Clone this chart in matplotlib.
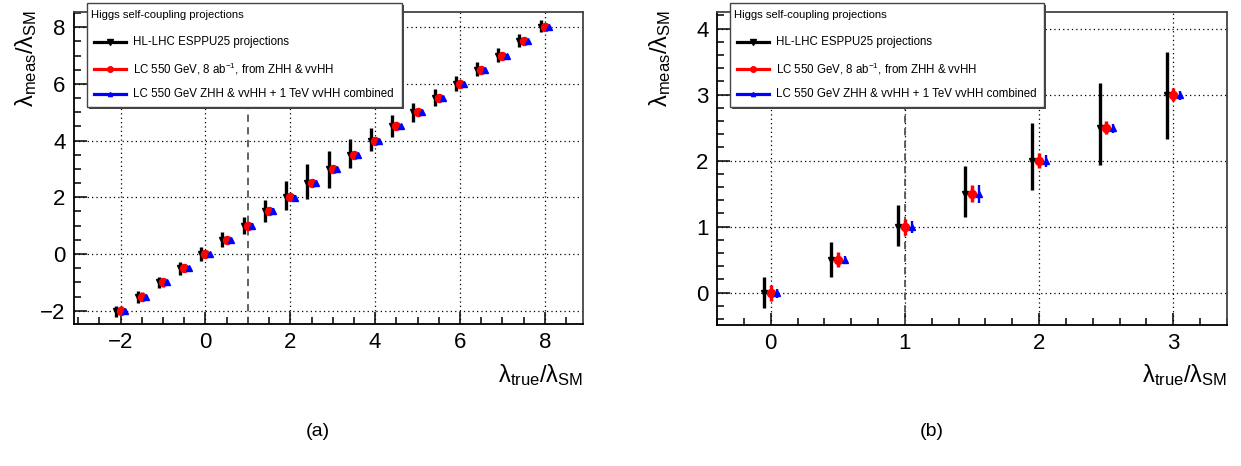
import numpy as np
import matplotlib
matplotlib.use("Agg")
import matplotlib.pyplot as plt
from matplotlib.patches import Rectangle
from matplotlib.lines import Line2D
from matplotlib.ticker import MultipleLocator

plt.rcParams['font.family'] = ['Liberation Sans', 'DejaVu Sans']
plt.rcParams['mathtext.fontset'] = 'custom'
plt.rcParams['mathtext.rm'] = 'Liberation Sans'
plt.rcParams['mathtext.it'] = 'Liberation Sans:italic'
plt.rcParams['mathtext.default'] = 'regular'

# ---------------- data ----------------
lam_true = [-2.0, -1.5, -1.0, -0.5, 0.0, 0.5, 1.0, 1.5, 2.0, 2.5, 3.0,
            3.5, 4.0, 4.5, 5.0, 5.5, 6.0, 6.5, 7.0, 7.5, 8.0]
# HL-LHC ESPPU25 projections (central value, asymmetric errors)
hl_val = [-2.0, -1.5, -1.0, -0.5, 0.0, 0.5, 1.0, 1.5, 2.0, 2.5, 3.0,
          3.5, 4.0, 4.5, 5.0, 5.5, 6.0, 6.5, 7.0, 7.5, 8.0]
hl_up = [0.17, 0.19, 0.20, 0.23, 0.24, 0.27, 0.32, 0.42, 0.57, 0.68, 0.64,
         0.55, 0.45, 0.40, 0.34, 0.31, 0.28, 0.28, 0.26, 0.25, 0.25]
hl_dn = [0.21, 0.22, 0.21, 0.24, 0.23, 0.26, 0.30, 0.36, 0.44, 0.56, 0.67,
         0.45, 0.37, 0.37, 0.33, 0.28, 0.24, 0.22, 0.22, 0.19, 0.18]
# LC 550 GeV, 8 ab-1, from ZHH & vvHH
lc_val = [-2.0, -1.5, -1.0, -0.5, 0.0, 0.5, 1.0, 1.5, 2.0, 2.5, 3.0,
          3.5, 4.0, 4.5, 5.0, 5.5, 6.0, 6.5, 7.0, 7.5, 8.0]
lc_err = [0.16, 0.15, 0.15, 0.14, 0.12, 0.11, 0.12, 0.13, 0.11, 0.10, 0.10,
          0.10, 0.10, 0.10, 0.11, 0.11, 0.11, 0.11, 0.12, 0.12, 0.12]
# LC 550 GeV ZHH & vvHH + 1 TeV vvHH combined
cb_val = [-2.0, -1.5, -1.0, -0.5, -0.01, 0.5, 0.99, 1.5, 1.99, 2.49, 2.99,
          3.5, 4.0, 4.5, 5.0, 5.5, 6.0, 6.5, 7.0, 7.5, 8.0]
cb_err = [0.07, 0.07, 0.07, 0.07, 0.065, 0.06, 0.09, 0.135, 0.09, 0.07, 0.07,
          0.06, 0.06, 0.06, 0.06, 0.06, 0.06, 0.06, 0.06, 0.06, 0.06]

legend_title = "Higgs self-coupling projections"
legend_labels = ["HL-LHC ESPPU25 projections",
                 r"LC 550 GeV, 8 ab$^{-1}$, from ZHH & vvHH",
                 "LC 550 GeV ZHH & vvHH + 1 TeV vvHH combined"]
xlabel = r"$\lambda_{\mathrm{true}}/\lambda_{\mathrm{SM}}$"
ylabel = r"$\lambda_{\mathrm{meas}}/\lambda_{\mathrm{SM}}$"

W, H = 1241, 466
fig = plt.figure(figsize=(W / 100, H / 100), dpi=100)


def fx(px):
    return px / W


def fy(py):
    return 1 - py / H


def make_axes(x0, x1, ytop, ybot):
    return fig.add_axes([fx(x0), fy(ybot), fx(x1) - fx(x0), fy(ytop) - fy(ybot)])


axA = make_axes(74, 583, 12, 324)
axB = make_axes(717, 1227, 12, 325)

lt = np.array(lam_true)


def draw(ax, mask, offs):
    x = lt[mask]
    ax.errorbar(x + offs[0], np.array(hl_val)[mask],
                yerr=[np.array(hl_dn)[mask], np.array(hl_up)[mask]],
                fmt='v', color='black', ms=5, elinewidth=2.4, capsize=0, zorder=5)
    ax.errorbar(x + offs[1], np.array(lc_val)[mask], yerr=np.array(lc_err)[mask],
                fmt='o', color='red', ms=5.8, elinewidth=2.5, capsize=0, zorder=6)
    ax.errorbar(x + offs[2], np.array(cb_val)[mask], yerr=np.array(cb_err)[mask],
                fmt='^', color='blue', ms=3.8, elinewidth=1.7, capsize=0, zorder=7)


draw(axA, np.ones(len(lt), bool), (-0.1, 0.0, 0.1))
draw(axB, (lt >= 0) & (lt <= 3), (-0.05, 0.0, 0.05))

axA.set_xlim(-3.1, 8.9)
axA.set_ylim(-2.47, 8.54)
axA.xaxis.set_major_locator(MultipleLocator(2))
axA.xaxis.set_minor_locator(MultipleLocator(0.5))
axA.yaxis.set_major_locator(MultipleLocator(2))
axA.yaxis.set_minor_locator(MultipleLocator(0.5))

axB.set_xlim(-0.4, 3.4)
axB.set_ylim(-0.49, 4.25)
axB.xaxis.set_major_locator(MultipleLocator(1))
axB.xaxis.set_minor_locator(MultipleLocator(0.2))
axB.yaxis.set_major_locator(MultipleLocator(1))
axB.yaxis.set_minor_locator(MultipleLocator(0.2))

for ax in (axA, axB):
    ax.grid(True, which='major', color='black', linestyle=(0, (1, 2.5)), lw=0.9)
    ax.axvline(1, color='#555555', linestyle=(0, (4, 3)), lw=1.3, zorder=1)
    ax.tick_params(which='both', direction='in', top=False, right=False,
                   labelsize=16, width=1.1, pad=6)
    ax.tick_params(which='major', length=9)
    ax.tick_params(which='minor', length=5)
    for s in ax.spines.values():
        s.set_linewidth(1.3)
    ax.spines['top'].set_color('#444444')
    ax.spines['right'].set_color('#444444')
    ax.set_axisbelow(True)

# axis titles
for ylx in (26, 660):
    fig.text(fx(ylx), fy(10), ylabel, rotation=90, ha='center', va='top', fontsize=17)
fig.text(fx(583), fy(362), xlabel, ha='right', va='top', fontsize=17)
fig.text(fx(1227), fy(362), xlabel, ha='right', va='top', fontsize=17)

fig.text(fx(318), fy(432), "(a)", ha='center', va='center', fontsize=14)
fig.text(fx(932), fy(432), "(b)", ha='center', va='center', fontsize=14)


# legends
def legend(x0, x1, y0, y1):
    sh = Rectangle((fx(x0 + 2), fy(y1 + 2)), fx(x1) - fx(x0), fy(y0) - fy(y1),
                   transform=fig.transFigure, facecolor='#444444', edgecolor='none', zorder=20)
    box = Rectangle((fx(x0), fy(y1)), fx(x1) - fx(x0), fy(y0) - fy(y1),
                    transform=fig.transFigure, facecolor='white', edgecolor='#444444',
                    lw=1.0, zorder=21)
    fig.add_artist(sh)
    fig.add_artist(box)
    fig.text(fx(x0 + 4), fy(15), legend_title, fontsize=8.1, ha='left', va='center', zorder=22)
    keys = [('black', 'v', 4, 2.3), ('red', 'o', 4, 2.3), ('blue', '^', 3, 2.3)]
    for (c, m, ms, lw), lab, yy in zip(keys, legend_labels, (41.5, 68.5, 94.5)):
        l = Line2D([fx(x0 + 7), fx(x0 + 39)], [fy(yy), fy(yy)], transform=fig.transFigure,
                   color=c, lw=lw, zorder=22)
        mk = Line2D([fx(x0 + 23)], [fy(yy)], transform=fig.transFigure, color=c,
                    marker=m, ms=ms, lw=0, zorder=23)
        fig.add_artist(l)
        fig.add_artist(mk)
        fig.text(fx(x0 + 46), fy(yy), lab, fontsize=8.3, ha='left', va='center', zorder=22)


legend(87, 402, 3, 107)
legend(730, 1044, 3, 107)

fig.savefig("out.png", dpi=100)
